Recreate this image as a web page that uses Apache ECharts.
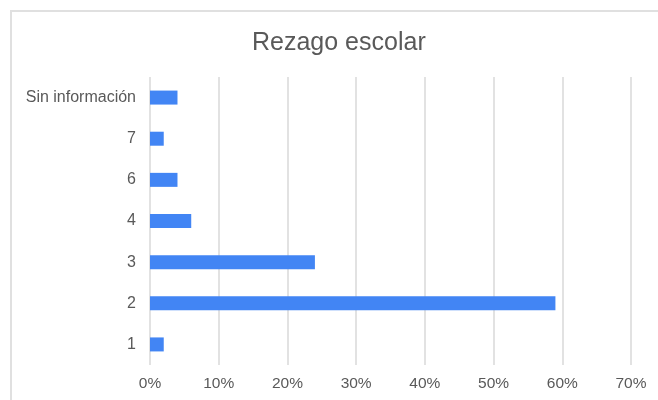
<!DOCTYPE html>
<html>
<head>
    <meta charset="utf-8">
    <title>Rezago escolar</title>
    <script src="https://cdn.jsdelivr.net/npm/echarts@6/dist/echarts.min.js"></script>
    <style>
        html, body { margin: 0; padding: 0; background: #fff; overflow: hidden; }
        #frame {
            position: absolute;
            left: 10px;
            top: 10px;
            width: 700px;
            height: 450px;
            border-left: 2px solid #e0e0e0;
            border-top: 2px solid #e0e0e0;
        }
        #main {
            position: absolute;
            left: 0;
            top: 0;
            width: 658px;
            height: 400px;
        }
    </style>
</head>
<body>
    <div id="frame"></div>
    <div id="main"></div>
    <script>
        // datos (porcentajes)
        var categories = ['1', '2', '3', '4', '6', '7', 'Sin información'];
        var values = [2, 59, 24, 6, 4, 2, 4];
        var tickMax = 70;
        var tickStep = 10;

        var myChart = echarts.init(document.getElementById('main'), null, { renderer: 'canvas' });

        var option = {
            title: {
                text: 'Rezago escolar',
                left: 247,
                top: 26,
                textStyle: {
                    fontFamily: 'Liberation Sans',
                    fontWeight: 'normal',
                    fontSize: 25,
                    color: '#595959'
                }
            },
            grid: {
                left: 150,
                right: 27,
                top: 77,
                bottom: 35,
                containLabel: false
            },
            xAxis: {
                type: 'value',
                min: 0,
                max: tickMax,
                interval: tickStep,
                axisLine: { show: false },
                axisTick: { show: false },
                splitLine: { lineStyle: { color: '#d9d9d9', width: 1.5 } },
                axisLabel: {
                    formatter: '{value}%',
                    fontFamily: 'Liberation Sans',
                    fontSize: 15.5,
                    color: '#595959',
                    margin: 11
                }
            },
            yAxis: {
                type: 'category',
                data: categories,
                axisLine: { show: false },
                axisTick: { show: false },
                axisLabel: {
                    fontFamily: 'Liberation Sans',
                    fontSize: 16,
                    color: '#595959',
                    margin: 14
                }
            },
            series: [
                {
                    type: 'bar',
                    data: values,
                    barWidth: 14,
                    itemStyle: { color: '#4285F4' }
                }
            ]
        };

        myChart.setOption(option);
    </script>
</body>
</html>
